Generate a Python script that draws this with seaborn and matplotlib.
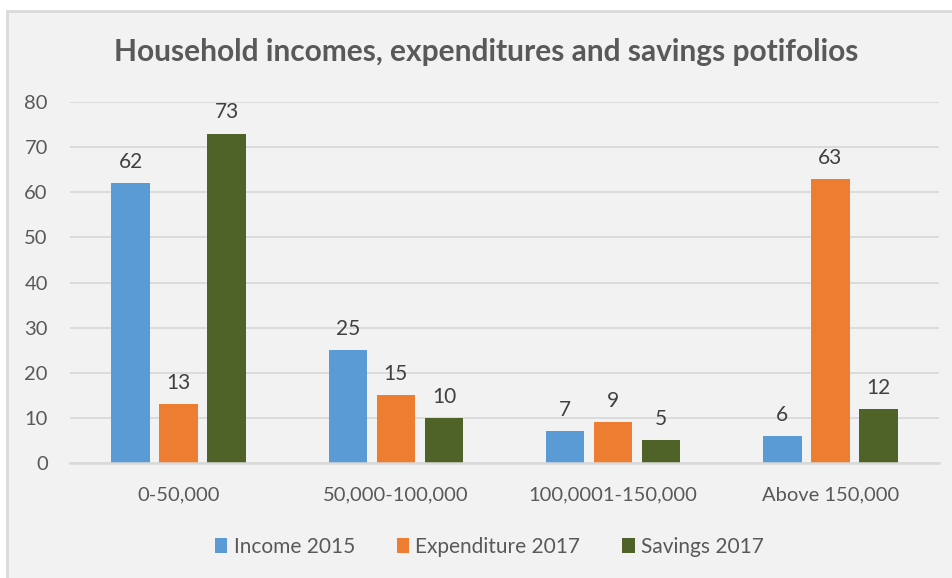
import matplotlib
matplotlib.use("Agg")
import matplotlib.pyplot as plt
from matplotlib.patches import Rectangle
import seaborn as sns
import pandas as pd

categories = ["0-50,000", "50,000-100,000", "100,0001-150,000", "Above 150,000"]
income_2015 = [62, 25, 7, 6]
expenditure_2017 = [13, 15, 9, 63]
savings_2017 = [73, 10, 5, 12]
series_names = ["Income 2015", "Expenditure 2017", "Savings 2017"]
y_ticks = [0, 10, 20, 30, 40, 50, 60, 70, 80]

colors = ["#5B9BD5", "#ED7D31", "#4F6228"]
text_color = "#595959"
label_color = "#404040"
grid_color = "#D9D9D9"
bg_color = "#F2F2F2"

rows = []
for name, vals in zip(series_names, [income_2015, expenditure_2017, savings_2017]):
    for cat, v in zip(categories, vals):
        rows.append({"Category": cat, "Series": name, "Value": v})
df = pd.DataFrame(rows)

sns.set_theme(style="white")
plt.rcParams["font.family"] = ["Lato", "DejaVu Sans"]

fig = plt.figure(figsize=(9.52, 5.78), dpi=100)
fig.patch.set_facecolor("white")
fig.add_artist(Rectangle((7 / 952, -0.01), 1.0, 1 - 11 / 578 + 0.01,
                         transform=fig.transFigure, facecolor=bg_color,
                         edgecolor=grid_color, linewidth=2, zorder=0))

ax = fig.add_axes([70 / 952, 1 - 463 / 578, 869 / 952, 361 / 578])
ax.set_facecolor("none")

sns.barplot(data=df, x="Category", y="Value", hue="Series", order=categories,
            hue_order=series_names, palette=colors, width=0.664, gap=0.2,
            saturation=1, ax=ax, legend=True, edgecolor="none")

for container in ax.containers:
    ax.bar_label(container, labels=[f"{v:g}" for v in container.datavalues],
                 padding=8, fontsize=15, color=label_color)

ax.set_ylim(0, 80)
ax.set_xlim(-0.5, 3.5)
ax.set_yticks(y_ticks)
ax.yaxis.grid(True, color=grid_color, linewidth=1.3)
ax.set_axisbelow(True)
for s in ["top", "right", "left"]:
    ax.spines[s].set_visible(False)
ax.spines["bottom"].set_color(grid_color)
ax.spines["bottom"].set_linewidth(1.8)
ax.tick_params(axis="both", length=0, labelsize=14.5, labelcolor=text_color)
ax.tick_params(axis="y", pad=16)
ax.tick_params(axis="x", pad=17)
ax.set_xlabel("")
ax.set_ylabel("")

handles, labels = ax.get_legend_handles_labels()
ax.get_legend().remove()
fig.legend(handles, labels, loc="center", bbox_to_anchor=(0.514, 1 - 547 / 578),
           ncol=3, frameon=False, fontsize=15, labelcolor=text_color,
           handlelength=0.6, handleheight=0.7, handletextpad=0.3, columnspacing=2.0)

fig.text(0.511, 1 - 52 / 578, "Household incomes, expenditures and savings potifolios",
         ha="center", va="center", fontsize=21.5, fontweight="bold", color=text_color)

fig.savefig("out.png", dpi=100)
